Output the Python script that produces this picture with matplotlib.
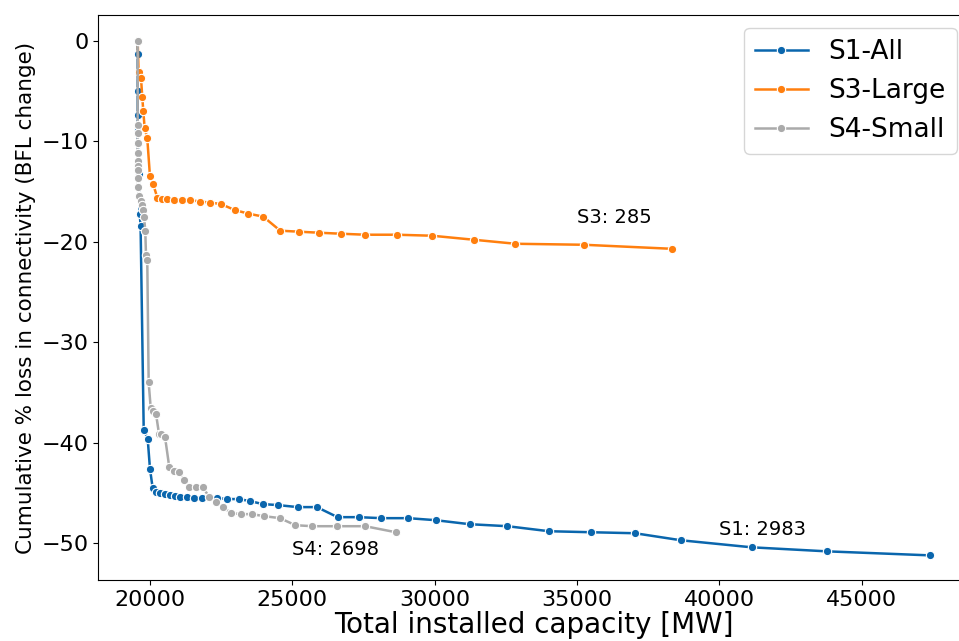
import numpy as np
import matplotlib
matplotlib.use('Agg')
import matplotlib.pyplot as plt

# Scenario S1 - all plants
s1_cap = [19568, 19568, 19568, 19568, 19568, 19575, 19600, 19640, 19670, 19780,
          19920, 20000, 20095, 20200, 20350, 20525, 20700, 20875, 21050, 21285,
          21540, 21810, 22362, 22713, 23113, 23520, 23956, 24503, 25184, 25862,
          26588, 27325, 28119, 29066, 30028, 31222, 32555, 34015, 35490, 37034,
          38649, 41130, 43763, 47378]
s1_loss = [0, -1.3, -5.0, -7.4, -8.9, -10.2, -13.3, -17.2, -18.4, -38.7,
           -39.6, -42.6, -44.5, -44.9, -45.0, -45.1, -45.2, -45.3, -45.4, -45.4,
           -45.5, -45.5, -45.5, -45.6, -45.6, -45.8, -46.1, -46.2, -46.4, -46.4,
           -47.4, -47.4, -47.5, -47.5, -47.7, -48.1, -48.3, -48.8, -48.9, -49.0,
           -49.7, -50.4, -50.8, -51.2]

# Scenario S3 - large plants
s3_cap = [19568, 19600, 19684, 19730, 19765, 19814, 19905, 20000, 20116, 20256,
          20411, 20586, 20842, 21134, 21404, 21755, 22106, 22492, 22984, 23450,
          23977, 24574, 25240, 25932, 26694, 27557, 28659, 29909, 31372, 32836,
          35244, 38322]
s3_loss = [0, -3.1, -3.7, -5.6, -7.0, -8.7, -9.7, -13.5, -14.3, -15.6,
           -15.7, -15.7, -15.8, -15.8, -15.85, -16.0, -16.1, -16.25, -16.85, -17.2,
           -17.5, -18.9, -19.0, -19.1, -19.2, -19.3, -19.3, -19.4, -19.8, -20.2,
           -20.3, -20.7]

# Scenario S4 - small plants
s4_cap = [19568, 19568, 19568, 19568, 19568, 19568, 19568, 19568, 19570, 19580,
          19621, 19670, 19705, 19740, 19790, 19835, 19860, 19905, 19954, 20025,
          20116, 20211, 20316, 20397, 20527, 20677, 20842, 21028, 21204, 21379,
          21615, 21850, 22081, 22317, 22573, 22843, 23205, 23570, 24012, 24563,
          25107, 25697, 26574, 27557, 28635]
s4_loss = [0, -8.4, -9.2, -10.2, -11.2, -12.0, -12.5, -12.9, -13.7, -14.6,
           -15.4, -15.9, -16.3, -16.8, -17.5, -18.9, -21.3, -21.8, -34.0, -36.5,
           -36.85, -37.1, -39.1, -39.1, -39.4, -42.4, -42.8, -42.9, -43.7, -44.4,
           -44.4, -44.4, -45.4, -45.9, -46.4, -47.0, -47.1, -47.1, -47.3, -47.5,
           -48.2, -48.3, -48.3, -48.3, -48.9]

labels = ['S1-All', 'S3-Large', 'S4-Small']
colors = ['#0a66ad', '#ff7f0e', '#aaaaaa']

fig = plt.figure(figsize=(9.59, 6.41), dpi=100)
ax = fig.add_axes([0.1022, 0.0952, 0.909, 0.8814])

for cap, loss, lab, col in zip([s1_cap, s3_cap, s4_cap], [s1_loss, s3_loss, s4_loss], labels, colors):
    ax.plot(cap, loss, color=col, lw=1.8, marker='o', markersize=6,
            markeredgecolor='white', markeredgewidth=0.8, label=lab)

# number of plants in each scenario
ax.text(40000, -49.2, 'S1: 2983', fontsize=14)
ax.text(35000, -18.1, 'S3: 285', fontsize=14)
ax.text(25000, -51.2, 'S4: 2698', fontsize=14)

ax.set_xlim(18175, 48790)
ax.set_ylim(-53.65, 2.56)
ax.tick_params(labelsize=16)
ax.set_xlabel('Total installed capacity [MW]', fontsize=20, labelpad=1)
ax.set_ylabel('Cumulative % loss in connectivity (BFL change)', fontsize=15.5)
ax.legend(loc='upper right', fontsize=19)

fig.savefig('out.png', dpi=100)
